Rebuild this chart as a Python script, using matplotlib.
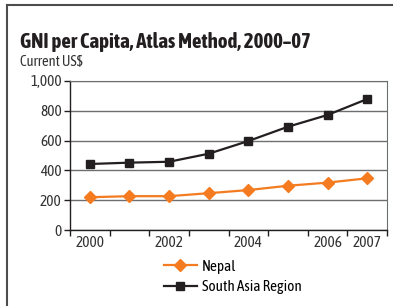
import matplotlib.pyplot as plt
from matplotlib import font_manager
from matplotlib.lines import Line2D

years = [2000, 2001, 2002, 2003, 2004, 2005, 2006, 2007]
nepal = [220, 227, 227, 247, 268, 297, 318, 347]
south_asia = [443, 452, 458, 512, 597, 693, 772, 879]
label_years = ["2000", "", "2002", "", "2004", "", "2006", "2007"]
y_ticks = [0, 200, 400, 600, 800, 1000]

orange = "#f47b20"
dark = "#231f20"
grey_text = "#333333"

# the original uses a condensed sans; take one if the system has it,
# preferring a family that also has a bold face
fonts = font_manager.fontManager.ttflist
narrow = sorted({f.name for f in fonts if "Narrow" in f.name or "Condensed" in f.name})
with_bold = [n for n in narrow
             if any(f.name == n and f.weight in (600, 700, 800, 'bold', 'semibold') for f in fonts)]
pick = (with_bold or narrow)[:1]
plt.rcParams['font.family'] = pick + ['Liberation Sans', 'DejaVu Sans']

fig = plt.figure(figsize=(4.01, 3.06), dpi=100)
ax = fig.add_axes([70 / 401, 1 - 230 / 306, 317 / 401, 149 / 306])

x = list(range(len(years)))
ax.plot(x, nepal, color=orange, marker='D', markersize=6, linewidth=1.6)
ax.plot(x, south_asia, color=dark, marker='s', markersize=6, linewidth=1.6)

ax.set_xlim(-0.5, len(years) - 0.5)
ax.set_ylim(0, 1000)
ax.set_yticks(y_ticks)
ax.set_yticklabels([f"{v:,}" for v in y_ticks], fontsize=11, color=grey_text)
ax.set_xticks(x)
ax.set_xticklabels(label_years, fontsize=11, color=grey_text)
ax.tick_params(axis='x', length=0, pad=4)
ax.set_xticks([i - 0.5 for i in range(len(years) + 1)], minor=True)
ax.tick_params(axis='x', which='minor', length=4, color=dark, width=1)
ax.tick_params(axis='y', length=4, color=dark, width=1, pad=2)

ax.grid(axis='y', color="#6d6e71", linewidth=1)
ax.set_axisbelow(True)
for s in ['top', 'right']:
    ax.spines[s].set_color("#6d6e71")
for s in ['left', 'bottom']:
    ax.spines[s].set_color(dark)
    ax.spines[s].set_linewidth(1)

# legend below the plot
handles = [Line2D([], [], color=orange, marker='D', markersize=6, linewidth=1.6),
           Line2D([], [], color=dark, marker='s', markersize=6, linewidth=1.6)]
fig.legend(handles, ["Nepal", "South Asia Region"], loc='upper left',
           bbox_to_anchor=(156 / 401, 1 - 252 / 306), frameon=False, fontsize=11,
           handlelength=2.2, handletextpad=0.3, labelspacing=0.42, borderpad=0)

fig.text(20 / 401, 1 - 42 / 306, "GNI per Capita, Atlas Method, 2000\u201307",
         fontsize=15, fontweight='bold', va='center', color=dark)
fig.text(20 / 401, 1 - 62 / 306, "Current US$", fontsize=10.5, va='center', color=grey_text)

# frame lines: top and left
fig.add_artist(Line2D([7 / 401, 392 / 401], [1 - 5 / 306, 1 - 5 / 306],
                      color="#4d4d4d", linewidth=1.5, transform=fig.transFigure))
fig.add_artist(Line2D([7 / 401, 7 / 401], [1 - 5 / 306, 0],
                      color="#4d4d4d", linewidth=1.5, transform=fig.transFigure))

fig.savefig("out.png", dpi=100)
